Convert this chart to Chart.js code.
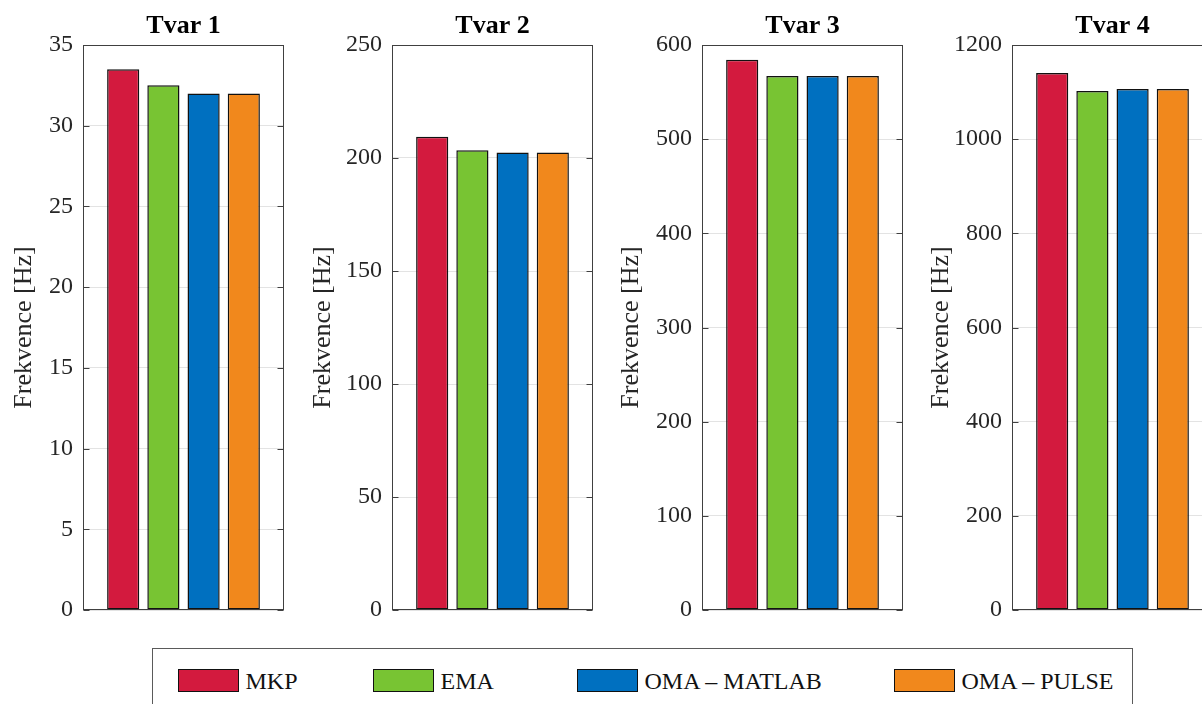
<!DOCTYPE html>
<html>
<head>
<meta charset="utf-8">
<script src="https://cdn.jsdelivr.net/npm/chart.js@4.4.1/dist/chart.umd.min.js"></script>
<style>
  html, body { margin: 0; padding: 0; background: #fff; }
  body { width: 1202px; height: 704px; overflow: hidden; position: relative; font-family: "Liberation Serif", "Times New Roman", serif; }
  canvas.panel { position: absolute; top: 0; }
  #legend { position: absolute; left: 152px; top: 648px; width: 981px; height: 72px; box-sizing: border-box; border: 1px solid #5a5a5a; background: #fff; }
  .sw { position: absolute; top: 20px; width: 61px; height: 23px; box-sizing: border-box; border: 1.5px solid #111; }
  .lt { position: absolute; top: 20px; font-size: 24px; line-height: 24px; color: #111; white-space: nowrap; }
</style>
</head>
<body>
<div id="legend"></div>
<script>
// ---- data ----
const panelTitles = ['Tvar 1', 'Tvar 2', 'Tvar 3', 'Tvar 4'];
const seriesNames = ['MKP', 'EMA', 'OMA \u2013 MATLAB', 'OMA \u2013 PULSE'];
const MKP        = [33.5, 209.4, 584.4, 1140.6];
const EMA        = [32.5, 203.4, 567.1, 1102.4];
const OMA_MATLAB = [32.0, 202.4, 567.1, 1106.6];
const OMA_PULSE  = [32.0, 202.4, 567.1, 1106.6];
const yMax  = [35, 250, 600, 1200];
const yStep = [5, 50, 100, 200];
const yTitle = 'Frekvence [Hz]';

// ---- styles / layout ----
const seriesColors = ['#D31A3E', '#78C433', '#0070C0', '#F1881C'];
const seriesValues = [MKP, EMA, OMA_MATLAB, OMA_PULSE];
const plotLefts = [83, 392, 702, 1012];
const plotWidth = 201;
const AX = 100;
const yTitlePad = [28.5, 18, 16, 16.5];
const legendSwatchX = [24.5, 219.5, 423.5, 740.5];
const legendTextX = [92.5, 287.5, 491.5, 808.5];
const FONT = '"Liberation Serif", "Times New Roman", serif';

const framePlugin = {
  id: 'frame',
  afterDatasetsDraw(chart) {
    const {ctx, chartArea: a, scales: {y}} = chart;
    const l = Math.round(a.left) + 0.5, r = Math.round(a.right) - 0.5;
    const t = Math.round(a.top) + 0.5, b = Math.round(a.bottom) - 0.5;
    ctx.save();
    ctx.strokeStyle = '#404040';
    ctx.lineWidth = 1;
    ctx.beginPath();
    y.ticks.forEach(tk => {
      const py = Math.round(y.getPixelForValue(tk.value)) + 0.5;
      ctx.moveTo(l, py); ctx.lineTo(l + 6, py);
      ctx.moveTo(r, py); ctx.lineTo(r - 6, py);
    });
    ctx.stroke();
    ctx.strokeRect(l, t, r - l, b - t);
    ctx.restore();
  }
};

const labels = [''].concat(seriesNames).concat(['']);

for (let p = 0; p < 4; p++) {
  const cv = document.createElement('canvas');
  cv.className = 'panel';
  cv.width = AX + plotWidth + 10;
  cv.height = 640;
  cv.style.left = (plotLefts[p] - AX) + 'px';
  document.body.appendChild(cv);

  const datasets = seriesNames.map((name, s) => {
    const d = labels.map(() => null);
    d[s + 1] = seriesValues[s][p];
    return {
      label: name,
      data: d,
      backgroundColor: seriesColors[s],
      borderColor: '#111111',
      borderWidth: 1.5,
      borderSkipped: false,
      categoryPercentage: 0.8,
      barPercentage: 1.0
    };
  });

  new Chart(cv, {
    type: 'bar',
    data: { labels, datasets },
    plugins: [framePlugin],
    options: {
      responsive: false,
      animation: false,
      devicePixelRatio: 1,
      layout: { padding: { left: 0, right: 10, top: 0, bottom: 30 } },
      plugins: {
        legend: { display: false },
        tooltip: { enabled: false },
        title: {
          display: true,
          text: panelTitles[p],
          fullSize: false,
          color: '#000',
          font: { family: FONT, size: 26, weight: 'bold', lineHeight: 1 },
          padding: { top: 13, bottom: 6 }
        }
      },
      scales: {
        x: {
          type: 'category',
          display: false,
          stacked: true,
          offset: false,
          grid: { display: false }
        },
        y: {
          stacked: true,
          min: 0,
          max: yMax[p],
          afterFit(scale) { scale.width = AX; },
          ticks: {
            stepSize: yStep[p],
            padding: 10,
            color: '#262626',
            font: { family: FONT, size: 24 },
            callback: v => String(v)
          },
          grid: { color: '#e3e3e3', lineWidth: 1, drawTicks: false },
          border: { display: false },
          title: {
            display: true,
            text: yTitle,
            color: '#262626',
            font: { family: FONT, size: 26, lineHeight: 1 },
            padding: { top: yTitlePad[p], bottom: 0 }
          }
        }
      }
    }
  });
}

// ---- legend ----
const lg = document.getElementById('legend');
seriesNames.forEach((name, s) => {
  const sw = document.createElement('div');
  sw.className = 'sw';
  sw.style.left = legendSwatchX[s] + 'px';
  sw.style.background = seriesColors[s];
  lg.appendChild(sw);
  const tx = document.createElement('span');
  tx.className = 'lt';
  tx.style.left = legendTextX[s] + 'px';
  tx.textContent = name;
  lg.appendChild(tx);
});
</script>
</body>
</html>
